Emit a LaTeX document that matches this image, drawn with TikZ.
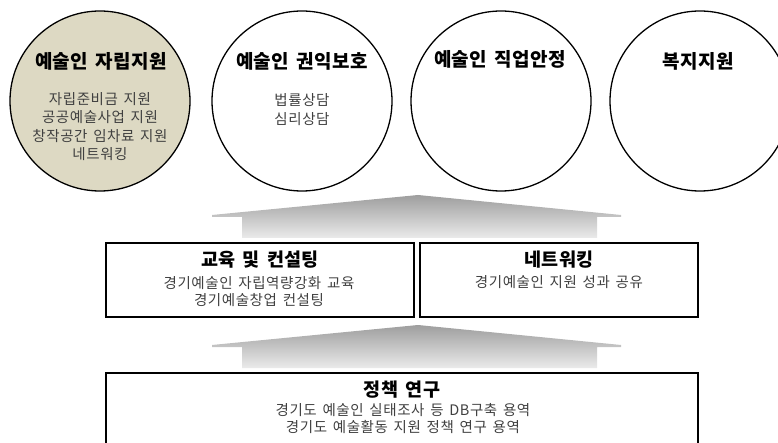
\documentclass[tikz,border=0pt]{standalone}
\usepackage{fontspec}
\setmainfont{Noto Sans CJK KR}
\newfontfamily\bodyfont{Noto Sans CJK KR}[LetterSpace=4, WordSpace=1.5]
\newfontfamily\titlefont{Noto Sans CJK KR}[LetterSpace=2, WordSpace=1.6]
\definecolor{tanfill}{HTML}{DDD9C3}
\definecolor{bodygray}{HTML}{404040}
\tikzset{
  circ/.style={circle, draw=black, line width=1.3pt, minimum size=180pt, inner sep=0pt},
  ctitle/.style={anchor=base, inner sep=0pt, font=\titlefont\fontsize{19}{22}\selectfont\bfseries, text=black},
  btitle/.style={anchor=base, inner sep=0pt, font=\titlefont\fontsize{18.5}{20}\selectfont\bfseries, text=black},
  bodyline/.style={anchor=base, inner sep=0pt, font=\bodyfont\fontsize{14.5}{17}\selectfont, text=bodygray},
  boxfr/.style={draw=black, line width=2.5pt},
  arrowshade/.style={top color=black!38, bottom color=black!8}
}
\begin{document}
\begin{tikzpicture}[x=1pt,y=-1pt]
\useasboundingbox (0,0) rectangle (778,443);
\clip (0,0) rectangle (778,443);
% circles
\node[circ, fill=tanfill] (c1) at (100,101) {};
\node[circ] (c2) at (302,101) {};
\node[circ] (c3) at (501,101) {};
\node[circ] (c4) at (700,101) {};
% circle titles
\node[ctitle] (t1) at (101,69) {예술인 자립지원};
\node[ctitle] (t2) at (302,69) {예술인 권익보호};
\node[ctitle] (t3) at (500,67) {예술인 직업안정};
\node[ctitle] (t4) at (698,69) {복지지원};
% circle 1 body
\node[bodyline] (b11) at (100,104.5) {자립준비금 지원};
\node[bodyline] (b12) at (100,122.8) {공공예술사업 지원};
\node[bodyline] (b13) at (100,141.1) {창작공간 임차료 지원};
\node[bodyline] (b14) at (100,159.4) {네트워킹};
% circle 2 body
\node[bodyline] (b21) at (302,105.5) {법률상담};
\node[bodyline] (b22) at (302,124.5) {심리상담};
% upper arrow
\shade[arrowshade] (418,195) -- (621,215) -- (621,217) -- (597,217) -- (597,238) -- (242,238) -- (242,217) -- (212,217) -- (212,215) -- cycle;
% lower arrow
\shade[arrowshade] (418,325) -- (621,345) -- (621,347) -- (597,347) -- (597,368) -- (242,368) -- (242,347) -- (212,347) -- (212,345) -- cycle;
% middle boxes
\draw[boxfr] (106,243) rectangle (414,317);
\draw[boxfr] (420,243) rectangle (698,317);
\node[btitle] (m1t) at (260,266.5) {교육 및 컨설팅};
\node[bodyline] (m1a) at (259,288.5) {경기예술인 자립역량강화 교육};
\node[bodyline] (m1b) at (259,305.5) {경기예술창업 컨설팅};
\node[btitle] (m2t) at (559,266.5) {네트워킹};
\node[bodyline] (m2a) at (559,287.5) {경기예술인 지원 성과 공유};
% bottom box
\draw[boxfr] (106,373) rectangle (698,470);
\node[btitle] (pt) at (402,396.5) {정책 연구};
\node[bodyline] (pa) at (403,415.5) {경기도 예술인 실태조사 등 DB구축 용역};
\node[bodyline] (pb) at (403,432.5) {경기도 예술활동 지원 정책 연구 용역};
\end{tikzpicture}
\end{document}
